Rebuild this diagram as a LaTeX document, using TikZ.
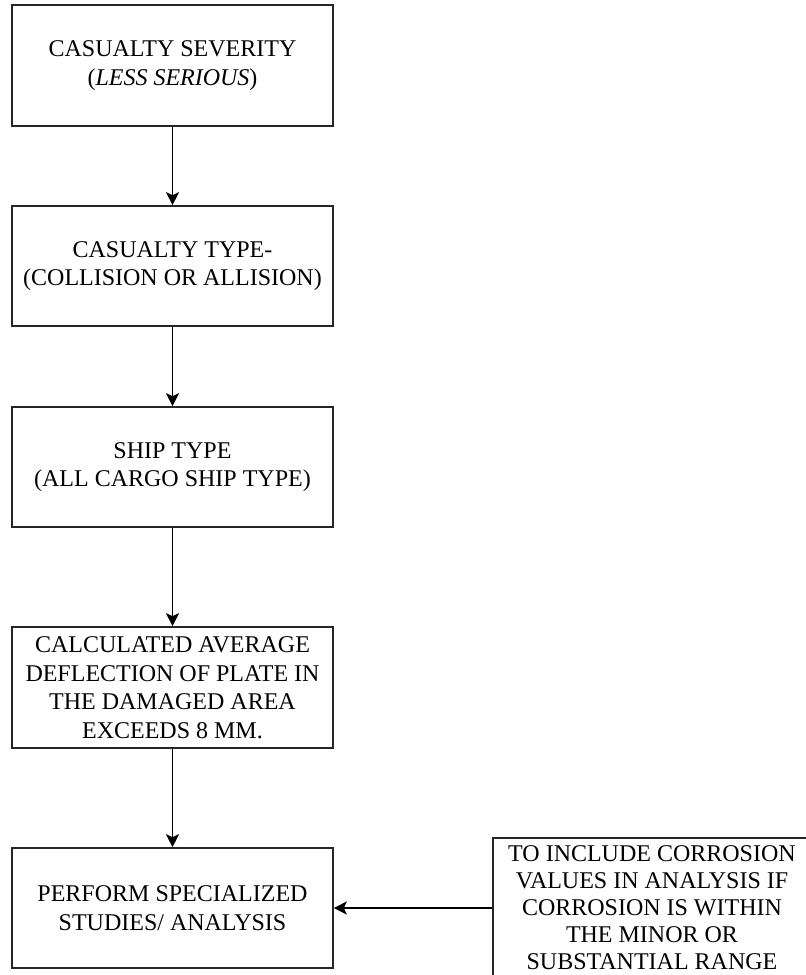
\documentclass[tikz,border=0pt]{standalone}
\usepackage{fontspec}
\setmainfont{Liberation Serif}
\usetikzlibrary{arrows.meta}
\begin{document}
\begin{tikzpicture}[x=1pt,y=-1pt,
  box/.style={draw=black!85, line width=1.6pt, minimum width=321pt, align=center,
    font=\fontsize{24}{28.5}\selectfont, inner sep=0pt},
  conn/.style={line width=1.6pt, -{Stealth[length=13pt,width=13pt,inset=3pt]}}]
\useasboundingbox (0,0) rectangle (806,975);
\clip (0,0) rectangle (806,975);
\node[box, minimum height=121pt] (b1) at (172.5,65.5) {CASUALTY SEVERITY\\(\textit{LESS SERIOUS})};
\node[box, minimum height=120pt] (b2) at (172.5,266) {CASUALTY TYPE-\\(COLLISION OR ALLISION)};
\node[box, minimum height=120pt] (b3) at (172.5,467) {SHIP TYPE\\(ALL CARGO SHIP TYPE)};
\node[box, minimum height=121pt] (b4) at (172.5,687.5) {CALCULATED AVERAGE\\DEFLECTION OF PLATE IN\\THE DAMAGED AREA\\EXCEEDS 8 MM.};
\node[box, minimum height=120pt] (b5) at (172.5,908) {PERFORM SPECIALIZED\\STUDIES/ ANALYSIS};
\node[box, minimum width=318pt, minimum height=140pt, font=\fontsize{24}{27}\selectfont] (r) at (652,908)
  {TO INCLUDE CORROSION\\VALUES IN ANALYSIS IF\\CORROSION IS WITHIN\\THE MINOR OR\\SUBSTANTIAL RANGE};
\draw[conn] (b1) -- (b2);
\draw[conn] (b2) -- (b3);
\draw[conn] (b3) -- (b4);
\draw[conn] (b4) -- (b5);
\draw[conn] (r.west |- b5.east) -- (b5.east);
\end{tikzpicture}
\end{document}
